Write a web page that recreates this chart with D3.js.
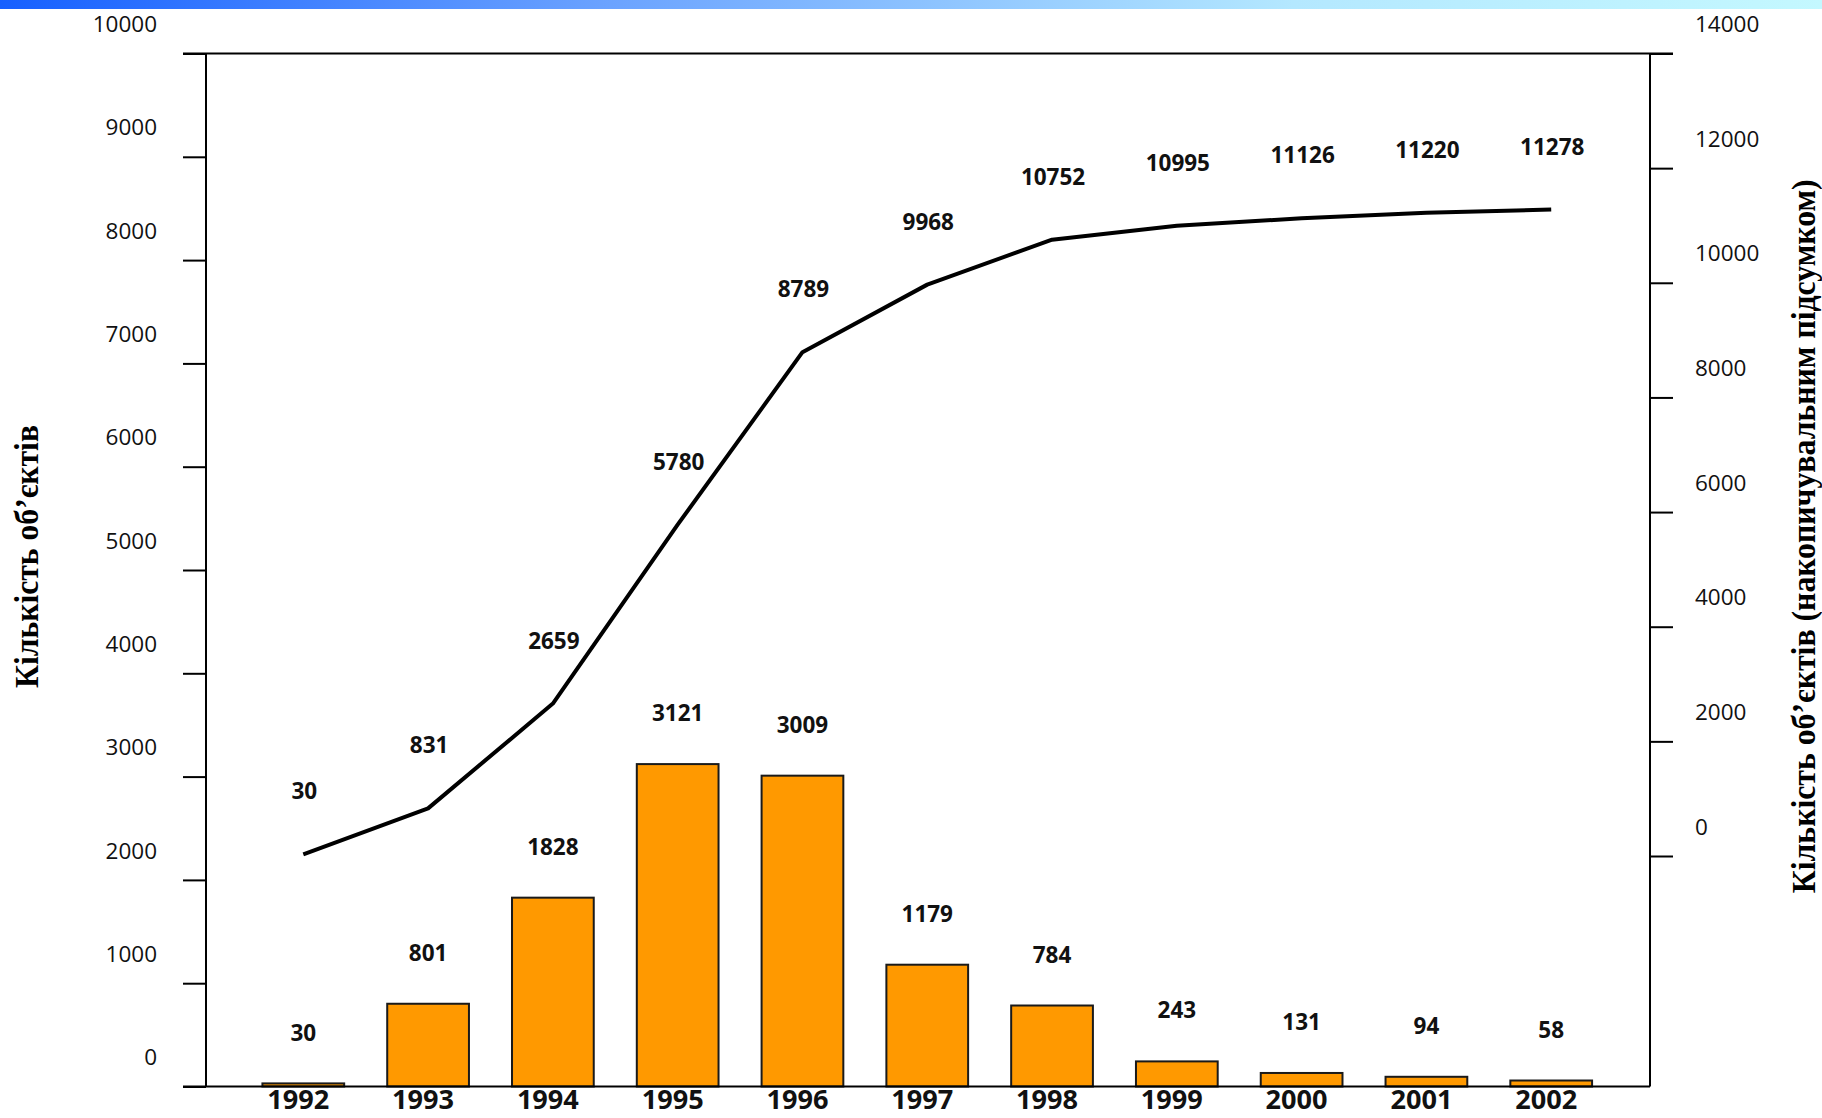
<!DOCTYPE html>
<html>
<head>
<meta charset="utf-8">
<script src="https://cdn.jsdelivr.net/npm/d3@7"></script>
<style>
  html, body { margin: 0; padding: 0; background: #ffffff; }
  svg { display: block; }
</style>
</head>
<body>
<script>
// ---- data ----
const years = ["1992","1993","1994","1995","1996","1997","1998","1999","2000","2001","2002"];
const annual = [30, 801, 1828, 3121, 3009, 1179, 784, 243, 131, 94, 58];
const cumulative = [30, 831, 2659, 5780, 8789, 9968, 10752, 10995, 11126, 11220, 11278];
const leftTicks = [0, 1000, 2000, 3000, 4000, 5000, 6000, 7000, 8000, 9000, 10000];
const rightTicks = [0, 2000, 4000, 6000, 8000, 10000, 12000, 14000];
const leftTitle = "Кількість об’єктів";
const rightTitle = "Кількість об’єктів (накопичувальним підсумком)";

// ---- layout ----
const W = 1822, H = 1118;
const xL = 206, xR = 1650, yTop = 53.5, yBot = 1086.5;
const tickLen = 23;

const svg = d3.select("body").append("svg").attr("width", W).attr("height", H);

// top gradient strip
const defs = svg.append("defs");
const grad = defs.append("linearGradient").attr("id", "topgrad").attr("x1", "0%").attr("x2", "100%");
grad.append("stop").attr("offset", "0%").attr("stop-color", "#1660ff");
grad.append("stop").attr("offset", "33%").attr("stop-color", "#6aa2ff");
grad.append("stop").attr("offset", "71%").attr("stop-color", "#b4e8ff");
grad.append("stop").attr("offset", "100%").attr("stop-color", "#c4f8ff");
svg.append("rect").attr("x", 0).attr("y", 0).attr("width", W).attr("height", 9).attr("fill", "url(#topgrad)");

// scales
const x = d3.scaleBand().domain(years).range([240.9, 1613.6]).paddingInner(0.345).paddingOuter(0.1725);
const yLeft = d3.scaleLinear().domain([0, 10000]).range([yBot, yTop]);
const yRight = d3.scaleLinear().domain([0, 14000]).range([856, yTop]);
const cx = d => x(d) + x.bandwidth() / 2;

// bars
svg.append("g").selectAll("rect").data(annual).join("rect")
  .attr("x", (d, i) => x(years[i]))
  .attr("y", d => yLeft(d))
  .attr("width", x.bandwidth())
  .attr("height", d => yBot - yLeft(d))
  .attr("fill", "#ff9900")
  .attr("stroke", "#1a1a1a")
  .attr("stroke-width", 2);

// left axis
const gL = svg.append("g").attr("transform", `translate(${xL},0)`)
  .call(d3.axisLeft(yLeft).tickValues(leftTicks).tickSize(tickLen).tickPadding(26).tickFormat(d3.format("d")));
gL.select(".domain").remove();
gL.selectAll(".tick line").attr("stroke", "#000").attr("stroke-width", 2);
gL.selectAll(".tick text").attr("y", -30).attr("dy", "0.36em")
  .attr("fill", "#111").style("font-family", "'Open Sans', 'Noto Sans', sans-serif").style("font-size", "22.5px");

// right axis
const gR = svg.append("g").attr("transform", `translate(${xR},0)`)
  .call(d3.axisRight(yRight).tickValues(rightTicks).tickSize(tickLen).tickPadding(22).tickFormat(d3.format("d")));
gR.select(".domain").remove();
gR.selectAll(".tick line").attr("stroke", "#000").attr("stroke-width", 2);
gR.selectAll(".tick text").attr("y", -30).attr("dy", "0.36em")
  .attr("fill", "#111").style("font-family", "'Open Sans', 'Noto Sans', sans-serif").style("font-size", "22.5px");

// frame lines
const frame = svg.append("g").attr("stroke", "#000").attr("stroke-width", 2).attr("fill", "none");
frame.append("line").attr("x1", xL - tickLen).attr("x2", xR + tickLen).attr("y1", yTop).attr("y2", yTop);
frame.append("line").attr("x1", xL - tickLen).attr("x2", xR).attr("y1", yBot).attr("y2", yBot);
frame.append("line").attr("x1", xL).attr("x2", xL).attr("y1", yTop).attr("y2", yBot);
frame.append("line").attr("x1", xR).attr("x2", xR).attr("y1", yTop).attr("y2", yBot);

// cumulative line
const line = d3.line().x((d, i) => cx(years[i])).y(d => yRight(d));
svg.append("path").datum(cumulative).attr("d", line)
  .attr("fill", "none").attr("stroke", "#000").attr("stroke-width", 4)
  .attr("stroke-linejoin", "round");

const boldFont = "'Open Sans', 'Noto Sans', sans-serif";

// bar labels
svg.append("g").selectAll("text").data(annual).join("text")
  .attr("x", (d, i) => cx(years[i]))
  .attr("y", d => yLeft(d) - 51)
  .attr("dy", "0.36em")
  .attr("text-anchor", "middle")
  .style("font-family", boldFont).style("font-weight", "bold").style("font-size", "22.5px")
  .attr("fill", "#111")
  .text(d => d);

// line labels
svg.append("g").selectAll("text").data(cumulative).join("text")
  .attr("x", (d, i) => cx(years[i]) + 1)
  .attr("y", d => yRight(d) - 63)
  .attr("dy", "0.36em")
  .attr("text-anchor", "middle")
  .style("font-family", boldFont).style("font-weight", "bold").style("font-size", "22.5px")
  .attr("fill", "#111")
  .text(d => d);

// year labels
svg.append("g").selectAll("text").data(years).join("text")
  .attr("x", d => cx(d) - 5)
  .attr("y", 1109)
  .attr("text-anchor", "middle")
  .attr("textLength", 62).attr("lengthAdjust", "spacingAndGlyphs")
  .style("font-family", boldFont).style("font-weight", "bold").style("font-size", "27px")
  .attr("fill", "#111")
  .text(d => d);

// axis titles
const serif = "'Liberation Serif', 'Times New Roman', serif";
svg.append("text")
  .attr("transform", "translate(37.7,556.5) rotate(-90)")
  .attr("text-anchor", "middle")
  .attr("textLength", 263).attr("lengthAdjust", "spacingAndGlyphs")
  .style("font-family", serif).style("font-weight", "bold").style("font-size", "34px")
  .attr("fill", "#000")
  .text(leftTitle);

svg.append("text")
  .attr("transform", "translate(1815,536.3) rotate(-90)")
  .attr("text-anchor", "middle")
  .attr("textLength", 714).attr("lengthAdjust", "spacingAndGlyphs")
  .style("font-family", serif).style("font-weight", "bold").style("font-size", "34px")
  .attr("fill", "#000")
  .text(rightTitle);
</script>
</body>
</html>
